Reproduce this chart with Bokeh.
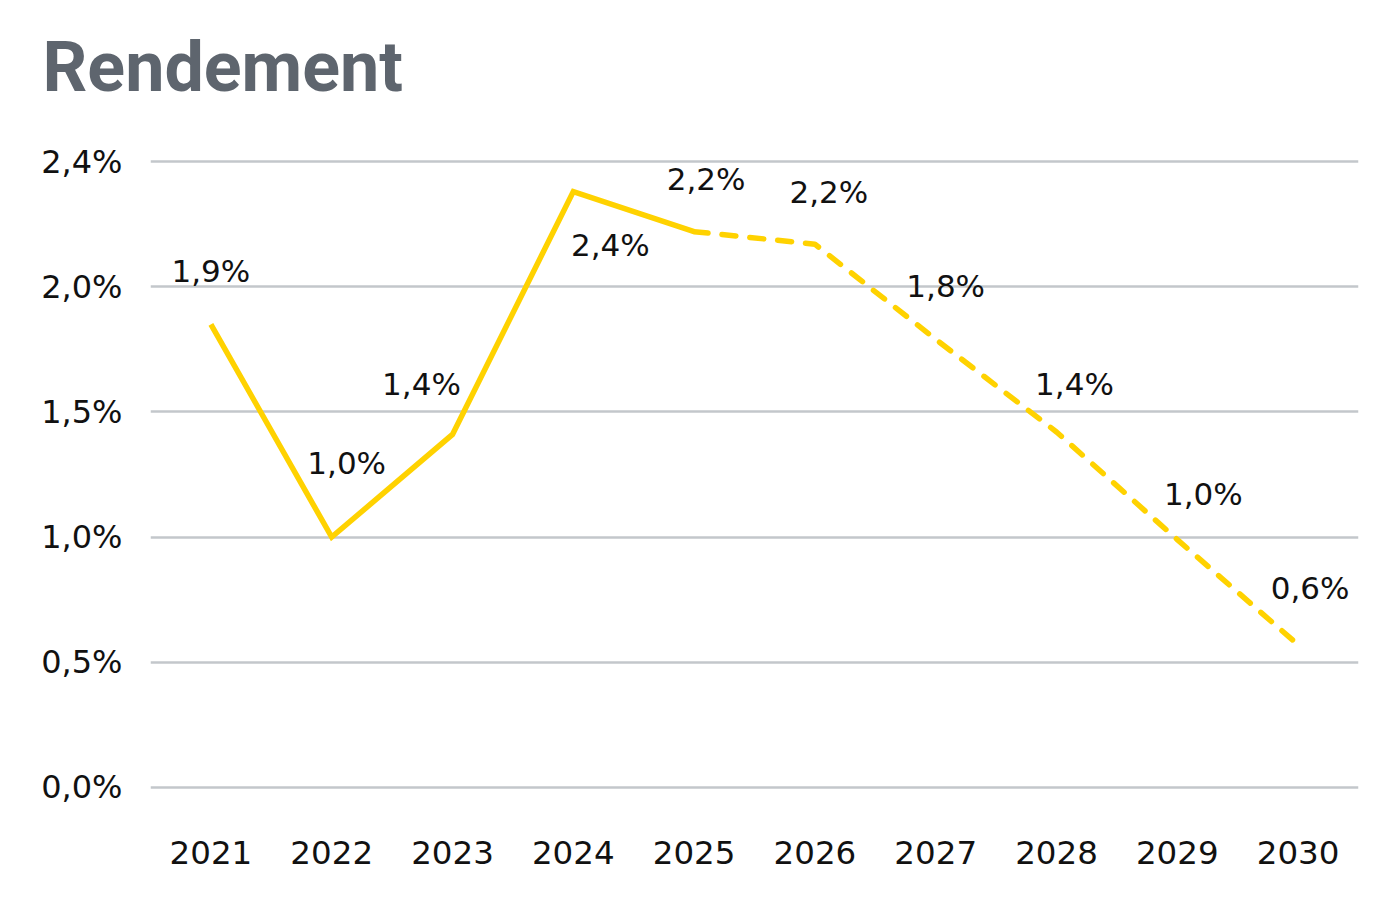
from bokeh.plotting import figure
from bokeh.models import ColumnDataSource, FactorRange, Range1d, FixedTicker
from bokeh.core.properties import value
from bokeh.embed import file_html
from bokeh.resources import INLINE

# Yield per year (%), realised up to 2025 and forecast afterwards
years = ["2021", "2022", "2023", "2024", "2025", "2026", "2027", "2028", "2029", "2030"]
rendement = [1.85, 1.0, 1.41, 2.38, 2.22, 2.17, 1.79, 1.42, 0.99, 0.57]
split_index = 4  # last point of the solid part (2025)

y_tick_values = [0, 0.5, 1.0, 1.5, 2.0, 2.5]
y_tick_labels = ["0,0%", "0,5%", "1,0%", "1,5%", "2,0%", "2,4%"]

# Screen offsets of each value label relative to its point
label_dx = [0, 15, -31, 37, 12, 14, 10, 18, 26, 12]
label_dy = [-53, -74, -50, 53, -53, -52, -53, -48, -46, -57]

FONT = "DejaVu Sans"
GOLD = "#FFD200"

p = figure(
    width=1400, height=901,
    x_range=FactorRange(*years, range_padding=0),
    y_range=Range1d(-0.052, 2.624),
    output_backend="svg", toolbar_location=None,
    min_border_left=150, min_border_right=42,
    min_border_top=130, min_border_bottom=101,
)
p.outline_line_color = None
p.background_fill_color = "white"
p.border_fill_color = "white"

p.title.text = "Rendement"
p.title.text_font = "Roboto"
p.title.text_font_style = "bold"
p.title.text_font_size = "70px"
p.title.text_color = "#5e656e"
p.title.align = "left"
p.title.offset = -108
p.title.standoff = 46

solid = ColumnDataSource(dict(x=years[:split_index + 1], y=rendement[:split_index + 1]))
dashed = ColumnDataSource(dict(x=years[split_index:], y=rendement[split_index:]))
p.line("x", "y", source=solid, line_color=GOLD, line_width=5.5, line_join="miter")
p.line("x", "y", source=dashed, line_color=GOLD, line_width=5.5,
       line_dash="14 14", line_cap="round")

labels = [f"{v:.1f}%".replace(".", ",") for v in rendement]
lab_src = ColumnDataSource(dict(x=years, y=rendement, t=labels, dx=label_dx, dy=label_dy))
p.text("x", "y", text="t", source=lab_src, x_offset="dx", y_offset="dy",
       text_font=value(FONT), text_font_size="31px", text_color="#111111",
       text_align="center", text_baseline="middle")

# Axes
p.yaxis.ticker = FixedTicker(ticks=y_tick_values)
p.yaxis.major_label_overrides = dict(zip(y_tick_values, y_tick_labels))
for ax in (p.xaxis[0], p.yaxis[0]):
    ax.axis_line_color = None
    ax.major_tick_line_color = None
    ax.minor_tick_line_color = None
    ax.major_label_text_font = FONT
    ax.major_label_text_color = "#111111"
p.xaxis.major_label_text_font_size = "32.5px"
p.yaxis.major_label_text_font_size = "32px"
p.yaxis.major_label_standoff = 22
p.xaxis.major_label_standoff = 34

p.xgrid.grid_line_color = None
p.ygrid.grid_line_color = "#c3c7cb"
p.ygrid.grid_line_width = 2.5

open("out.html", "w").write(file_html(p, INLINE))
